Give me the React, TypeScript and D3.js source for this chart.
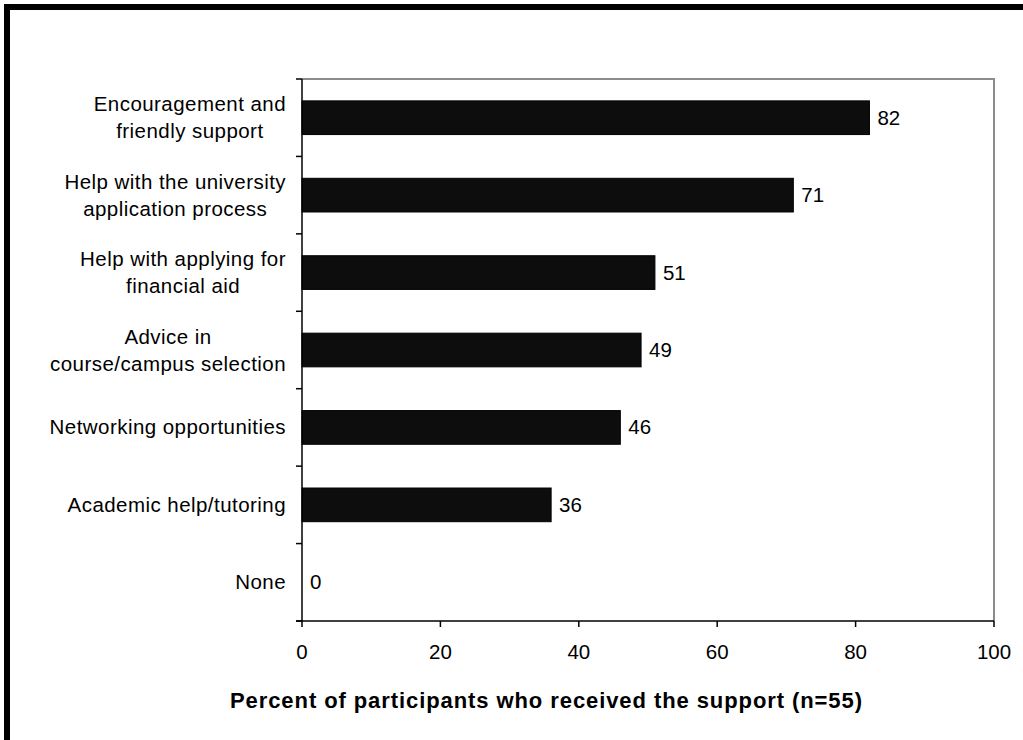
import React, { useEffect, useRef } from "react";
import * as d3 from "d3";

// Support categories (top to bottom) and percent of participants (n=55)
const categories: string[][] = [
  ["Encouragement and", "friendly support"],
  ["Help with the university", "application process"],
  ["Help with applying for", "financial aid"],
  ["Advice in", "course/campus selection"],
  ["Networking opportunities"],
  ["Academic help/tutoring"],
  ["None"],
];
const percents: number[] = [82, 71, 51, 49, 46, 36, 0];
const xTicks: number[] = [0, 20, 40, 60, 80, 100];
const axisTitle = "Percent of participants who received the support (n=55)";

const W = 1023;
const H = 740;
const FONT = "'Liberation Sans', Arial, Helvetica, sans-serif";

export default function App() {
  const ref = useRef<SVGSVGElement | null>(null);

  useEffect(() => {
    const svg = d3.select(ref.current);
    svg.selectAll("*").remove();

    const left = 302;
    const right = 994;
    const top = 79;
    const bottom = 621;

    const x = d3.scaleLinear().domain([0, 100]).range([left, right]);
    const y = d3
      .scaleBand<number>()
      .domain(categories.map((_, i) => i))
      .range([top, bottom])
      .paddingInner(0.565)
      .paddingOuter(0.2825);
    const band = (bottom - top) / categories.length;
    const center = (i: number) => top + band * (i + 0.5);

    // outer frame
    svg
      .append("rect")
      .attr("x", 7)
      .attr("y", 7)
      .attr("width", 1200)
      .attr("height", 900)
      .attr("fill", "none")
      .attr("stroke", "#000")
      .attr("stroke-width", 6);

    // plot area frame (top and right edges)
    svg
      .append("path")
      .attr("d", `M${left},${top}H${right}V${bottom}`)
      .attr("fill", "none")
      .attr("stroke", "#8c8c8c")
      .attr("stroke-width", 2);

    // bars
    svg
      .append("g")
      .selectAll("rect")
      .data(percents)
      .join("rect")
      .attr("x", x(0))
      .attr("y", (_, i) => y(i)!)
      .attr("width", (d) => x(d) - x(0))
      .attr("height", y.bandwidth())
      .attr("fill", "#0d0d0d")
      .attr("stroke", (d) => (d > 0 ? "#000" : "none"))
      .attr("stroke-width", 1);

    // value labels
    svg
      .append("g")
      .selectAll("text")
      .data(percents)
      .join("text")
      .attr("x", (d) => x(d) + 8)
      .attr("y", (_, i) => center(i) + 7)
      .attr("font-family", FONT)
      .attr("font-size", 20.5)
      .attr("fill", "#000")
      .text((d) => String(d));

    // category axis
    const ya = svg.append("g");
    ya.append("line")
      .attr("x1", left)
      .attr("x2", left)
      .attr("y1", top)
      .attr("y2", bottom)
      .attr("stroke", "#000")
      .attr("stroke-width", 1.5);
    d3.range(categories.length + 1).forEach((k) => {
      ya.append("line")
        .attr("x1", left - 6)
        .attr("x2", left)
        .attr("y1", top + band * k)
        .attr("y2", top + band * k)
        .attr("stroke", "#000")
        .attr("stroke-width", 1.5);
    });

    // category labels: each block right-aligned, lines centered within it
    const labelRight = 286;
    const lineH = 27;
    categories.forEach((lines, i) => {
      const g = ya.append("g");
      const texts = lines.map((ln, j) =>
        g
          .append("text")
          .attr("y", center(i) + 7 + (j - (lines.length - 1) / 2) * lineH)
          .attr("font-family", FONT)
          .attr("font-size", 20.5)
          .attr("letter-spacing", 0.45)
          .attr("fill", "#000")
          .attr("text-anchor", "middle")
          .text(ln)
      );
      const widths = texts.map((t) => (t.node() as SVGTextElement).getComputedTextLength());
      const maxW = d3.max(widths) ?? 0;
      texts.forEach((t) => t.attr("x", labelRight - maxW / 2));
    });

    // value axis
    const xa = svg.append("g");
    xa.append("line")
      .attr("x1", left - 6)
      .attr("x2", right)
      .attr("y1", bottom)
      .attr("y2", bottom)
      .attr("stroke", "#000")
      .attr("stroke-width", 1.5);
    xTicks.forEach((t) => {
      xa.append("line")
        .attr("x1", x(t))
        .attr("x2", x(t))
        .attr("y1", bottom)
        .attr("y2", bottom + 6)
        .attr("stroke", "#000")
        .attr("stroke-width", 1.5);
      xa.append("text")
        .attr("x", x(t))
        .attr("y", 659)
        .attr("text-anchor", "middle")
        .attr("font-family", FONT)
        .attr("font-size", 20.5)
        .attr("fill", "#000")
        .text(String(t));
    });

    // axis title
    svg
      .append("text")
      .attr("x", 230)
      .attr("y", 708)
      .attr("font-family", FONT)
      .attr("font-size", 22)
      .attr("font-weight", "bold")
      .attr("textLength", 632)
      .attr("lengthAdjust", "spacing")
      .attr("fill", "#000")
      .text(axisTitle);
  }, []);

  return (
    <svg
      ref={ref}
      width={W}
      height={H}
      style={{ position: "absolute", left: 0, top: 0, background: "#fff" }}
    />
  );
}
